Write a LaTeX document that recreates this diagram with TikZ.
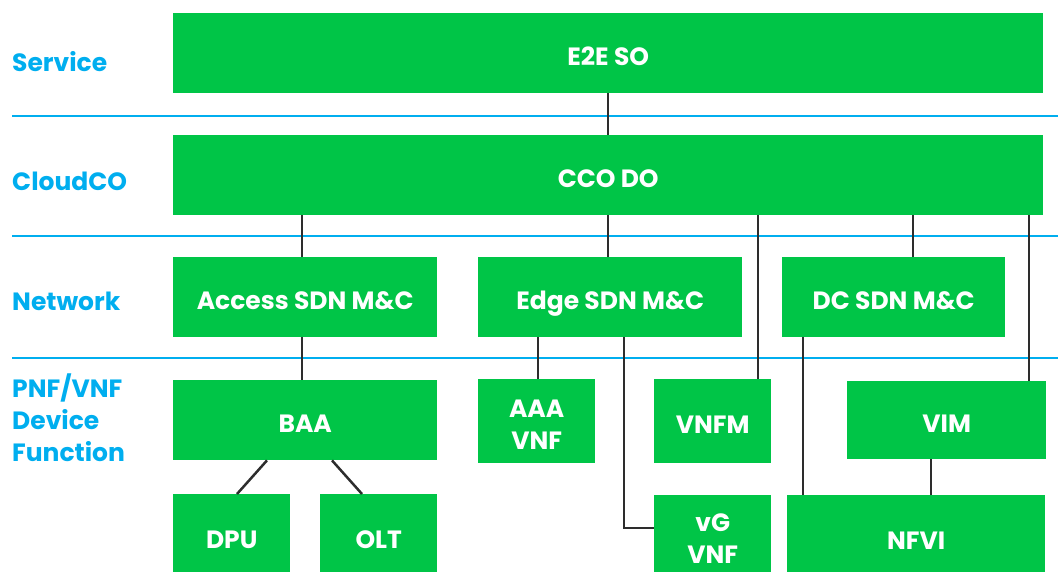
\documentclass[tikz,border=0pt]{standalone}
\usepackage{fontspec}
\setmainfont{Poppins}
\definecolor{boxgreen}{RGB}{0,197,71}
\definecolor{layerblue}{RGB}{0,174,239}
\definecolor{conn}{RGB}{45,45,45}
\tikzset{
  box/.style={fill=boxgreen, draw=none, anchor=north west, inner sep=0pt,
    text=white, font=\fontsize{25}{32}\selectfont\bfseries, align=center,
    text height=25pt, text depth=0pt},
  twoline/.style={text height=57pt},
  layer/.style={draw=layerblue, line width=2.5pt},
  lab/.style={anchor=base west, inner sep=0pt, text=layerblue, align=left,
    font=\fontsize{25}{32}\selectfont\bfseries},
  wire/.style={draw=conn, line width=2.5pt}
}
\begin{document}
\begin{tikzpicture}[x=1pt,y=-1pt]
\useasboundingbox (0,0) rectangle (1058,571);
% layer separators
\draw[layer] (12,116) -- (1058,116);
\draw[layer] (12,236) -- (1058,236);
\draw[layer] (12,358) -- (1058,358);
% layer labels
\node[lab] (lserv) at (12,71) {Service};
\node[lab] (lcloud) at (12,190) {CloudCO};
\node[lab] (lnet) at (12,310) {Network};
\node[lab] (lpnf) at (12,461) {PNF/VNF\\Device\\Function};
% boxes
\node[box, minimum width=870, minimum height=80] (e2e) at (173,13) {E2E SO};
\node[box, minimum width=870, minimum height=80] (cco) at (173,135) {CCO DO};
\node[box, minimum width=264, minimum height=80] (access) at (173,257) {Access SDN M\&C};
\node[box, minimum width=264, minimum height=80] (edge) at (478,257) {Edge SDN M\&C};
\node[box, minimum width=223, minimum height=80] (dc) at (782,257) {DC SDN M\&C};
\node[box, minimum width=264, minimum height=80] (baa) at (173,380) {BAA};
\node[box, twoline, minimum width=117, minimum height=84] (aaa) at (478,379) {AAA\\VNF};
\node[box, minimum width=117, minimum height=84] (vnfm) at (654,379) {VNFM};
\node[box, minimum width=199, minimum height=78] (vim) at (847,381) {VIM};
\node[box, minimum width=117, minimum height=84] (dpu) at (173,494) {DPU};
\node[box, minimum width=117, minimum height=84] (olt) at (320,494) {OLT};
\node[box, twoline, minimum width=117, minimum height=80] (vg) at (654,495) {vG\\VNF};
\node[box, minimum width=258, minimum height=84] (nfvi) at (787,495) {NFVI};
% connectors
\draw[wire] (608,0 |- e2e.south) -- (608,0 |- cco.north);
\draw[wire] (302,0 |- cco.south) -- (302,0 |- access.north);
\draw[wire] (608,0 |- cco.south) -- (608,0 |- edge.north);
\draw[wire] (758,0 |- cco.south) -- (758,0 |- vnfm.north);
\draw[wire] (913,0 |- cco.south) -- (913,0 |- dc.north);
\draw[wire] (1029,0 |- cco.south) -- (1029,0 |- vim.north);
\draw[wire] (302,0 |- access.south) -- (302,0 |- baa.north);
\draw[wire] (538,0 |- edge.south) -- (538,0 |- aaa.north);
\draw[wire] (624,0 |- edge.south) |- (vg.west |- 0,528);
\draw[wire] (803,0 |- dc.south) -- (803,0 |- nfvi.north);
\draw[wire] (931,0 |- vim.south) -- (931,0 |- nfvi.north);
\draw[wire] (267,0 |- baa.south) -- (237,0 |- dpu.north);
\draw[wire] (332,0 |- baa.south) -- (362,0 |- olt.north);
\end{tikzpicture}
\end{document}
